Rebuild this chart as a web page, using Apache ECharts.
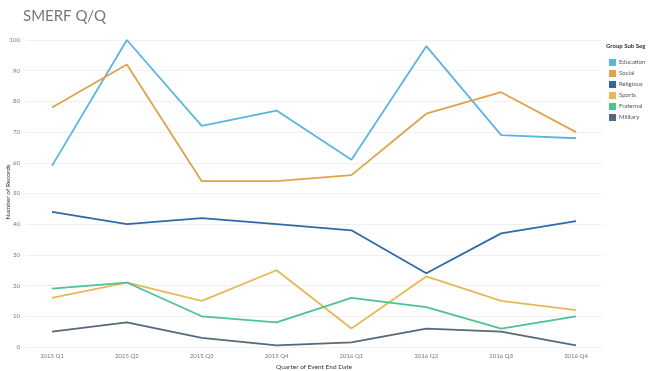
<!DOCTYPE html>
<html><head><meta charset="utf-8">
<script src="https://cdn.jsdelivr.net/npm/echarts@6/dist/echarts.min.js"></script>
<style>html,body{margin:0;padding:0;background:#fff}#c{width:650px;height:371px}</style>
</head><body><div id="c"></div>
<script>
const categories = ['2015 Q1','2015 Q2','2015 Q3','2015 Q4','2016 Q1','2016 Q2','2016 Q3','2016 Q4'];
const education = [59, 100, 72, 77, 61, 98, 69, 68];
const social    = [78, 92, 54, 54, 56, 76, 83, 70];
const religious = [44, 40, 42, 40, 38, 24, 37, 41];
const sports    = [16, 21, 15, 25, 6, 23, 15, 12];
const fraternal = [19, 21, 10, 8, 16, 13, 6, 10];
const military  = [5, 8, 3, 0.5, 1.5, 6, 5, 0.5];
const seriesNames = ['Education','Social','Religious','Sports','Fraternal','Military'];
const seriesData = [education, social, religious, sports, fraternal, military];
const colors = ['#5ab6dc','#e0a24c','#2f6aa8','#e5b957','#4cc391','#56697a'];

const chart = echarts.init(document.getElementById('c'));
chart.setOption({
  animation:false,
  color: colors,
  title:{text:'SMERF Q/Q', left:18, top:4, textStyle:{fontFamily:'Lato', fontSize:15, fontWeight:'normal', color:'#777'}},
  legend:{
    orient:'vertical', left:604, top:54, itemWidth:7, itemHeight:7, itemGap:4,
    icon:'rect', data: seriesNames,
    textStyle:{fontFamily:'Lato', fontSize:6, color:'#555', padding:[0,0,0,-2]}
  },
  graphic:[
    {type:'text', left:606, top:43, style:{text:'Group Sub Seg', font:'bold 6px Lato', fill:'#333'}},
    {type:'text', x:8, y:192, rotation:Math.PI/2,
     style:{text:'Number of Records', font:'6.5px Lato', fill:'#333', align:'center', verticalAlign:'middle'}}
  ],
  grid:[
    {left:26, right:48, top:40, bottom:24, outerBoundsMode:'none', containLabel:false},
    {left:52, right:74, top:40, bottom:24, outerBoundsMode:'none', containLabel:false}
  ],
  xAxis:[
    {gridIndex:0, type:'value', min:0, max:1, show:false},
    {gridIndex:1, type:'category', data:categories, boundaryGap:false,
     axisLine:{show:false}, axisTick:{show:false},
     axisLabel:{fontFamily:'Lato', fontSize:6, color:'#777', margin:6},
     name:'Quarter of Event End Date', nameLocation:'middle', nameGap:16,
     nameTextStyle:{fontFamily:'Lato', fontSize:6.5, color:'#333'}}
  ],
  yAxis:[
    {gridIndex:0, type:'value', min:0, max:100, interval:10,
     axisLine:{show:false}, axisTick:{show:false},
     splitLine:{lineStyle:{color:'#f0f0f0', width:1}},
     axisLabel:{fontFamily:'Lato', fontSize:6, color:'#777', margin:6}},
    {gridIndex:1, type:'value', min:0, max:100, interval:10, show:false, splitLine:{show:false}}
  ],
  series: seriesNames.map((n,i)=>({
    name:n, type:'line', xAxisIndex:1, yAxisIndex:1, data:seriesData[i],
    symbol:'none', lineStyle:{width:1.8, color:colors[i]}, itemStyle:{color:colors[i]}
  }))
});
</script></body></html>
